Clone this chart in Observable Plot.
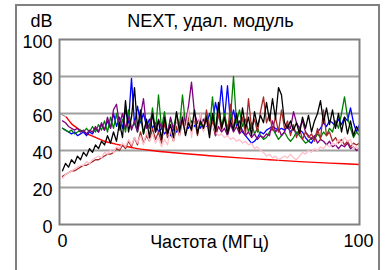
<!DOCTYPE html>
<html>
<head>
<meta charset="utf-8">
<script src="https://cdn.jsdelivr.net/npm/d3@7"></script>
<script src="https://cdn.jsdelivr.net/npm/@observablehq/plot@0.6"></script>
<style>
  body { margin: 0; background: #fff; }
  #wrap { position: relative; width: 385px; height: 270px; overflow: hidden; }
  #box { position: absolute; left: 15px; top: 4px; width: 361px; height: 300px; border: 2px solid #808080; }
  #chart { position: absolute; left: 0; top: 0; }
</style>
</head>
<body>
<div id="wrap"><div id="box"></div><div id="chart"></div></div>
<script>
const title = "NEXT, удал. модуль";
const unitLabel = "dB";
const xLabel = "Частота (МГц)";
const xTicksLeft = [0];
const xTicksRight = [100];
const yTicks = [0, 20, 40, 60, 80, 100];
const gridValues = [20, 40, 60, 80];

const freq = [1,2,3,4,5,6,7,8,9,10,11,12,13,14,15,16,17,18,19,20,21,22,23,24,25,26,27,28,29,30,
31,32,33,34,35,36,37,38,39,40,41,42,43,44,45,46,47,48,49,50,51,52,53,54,55,56,57,58,59,60,
61,62,63,64,65,66,67,68,69,70,71,72,73,74,75,76,77,78,79,80,81,82,83,84,85,86,87,88,89,90,
91,92,93,94,95,96,97,98,99,100];

const limitGreyF = [0, 2.3];
const limitGreyV = [60.2, 58];
const limitF = [2.3, 4, 6, 8, 10, 15, 20, 25, 30, 40, 50, 60, 70, 80, 90, 100];
const limitV = [58, 54.5, 52, 49.8, 48.5, 45, 43, 41.3, 40.1, 38.5, 37.2, 36, 35, 34, 33.2, 32.4];

const blue = [52,51,50,49,50,48,49,50,48,50,49,52,50,54,51,56,52,60,53,58,52,62,55,79,54,64,55,60,53,57,
52,55,50,52,49,51,48,52,50,53,55,54,52,56,53,55,52,57,53,60,55,66,58,75,57,75,55,62,53,56,
50,48,46,44,45,47,50,49,51,52,53,52,51,52,51,53,50,52,49,51,50,47,45,44,47,50,52,55,53,56,
55,53,57,54,58,56,63,55,50,54];

const green = [52,51,50,51,49,50,51,50,52,50,53,50,54,51,56,50,58,52,60,51,57,50,62,52,55,50,58,49,56,52,
63,50,70,52,61,49,57,52,60,53,70,54,62,52,58,50,55,51,60,52,69,50,64,53,60,52,58,80,55,62,
53,57,50,55,49,52,48,46,47,50,52,49,46,48,50,47,45,47,50,48,46,44,45,47,46,49,47,50,48,52,
50,56,52,60,69,58,52,47,50,48];

const purple = [56,55,53,52,51,52,50,51,49,51,50,53,50,55,51,58,52,62,65,54,60,52,58,51,56,50,59,68,52,54,
60,50,57,52,55,49,58,51,56,52,60,55,64,77,60,55,58,52,56,50,55,48,53,50,52,48,54,50,53,49,
51,48,50,47,49,46,48,47,49,48,56,50,52,48,50,54,52,61,55,52,56,50,48,46,48,44,46,45,43,45,
42,43,41,43,42,44,41,42,40,41];

const brown = [26,27,28,29,29,30,31,32,32,33,34,35,35,36,37,38,38,39,41,40,43,41,45,42,47,43,50,44,48,45,
52,46,50,44,55,47,50,45,53,48,56,49,58,50,57,48,60,51,62,50,56,48,60,51,58,49,65,52,60,50,
58,49,68,52,57,50,61,69,55,60,51,58,50,62,52,56,48,54,47,52,46,50,47,49,45,52,46,62,48,50,
45,47,44,46,43,45,42,44,43,44];

const pink = [25,27,28,29,30,31,32,32,34,33,35,36,37,36,39,38,40,39,42,41,44,42,46,43,47,44,48,43,50,45,
49,44,47,42,46,43,52,45,58,48,60,50,62,47,58,52,60,50,55,48,54,50,48,49,47,48,46,47,45,46,
44,45,43,44,41,42,40,39,37,38,36,37,35,36,37,36,38,36,35,37,39,38,40,39,41,40,42,41,43,42,
44,43,46,44,47,45,46,41,42,40];

const black = [29,33,31,35,33,37,35,39,37,41,39,43,41,45,43,48,44,50,45,55,47,67,50,58,74,52,62,49,57,47,
60,50,56,46,58,49,54,47,61,50,58,48,55,51,62,49,56,52,58,47,60,50,66,52,58,49,56,51,60,50,
63,52,58,48,61,53,59,55,66,56,68,57,74,70,55,52,56,51,55,49,58,52,59,50,56,60,67,55,63,54,
62,52,60,50,58,49,56,48,53,50];

const seriesNames = ["blue", "green", "purple", "brown", "pink", "black"];
const seriesColors = ["#0000ff", "#008040", "#800080", "#804040", "#ff20c0", "#000000"];
const seriesValues = [blue, green, purple, brown, pink, black];

const rows = [];
seriesNames.forEach((name, i) => {
  seriesValues[i].forEach((v, j) => rows.push({series: name, f: freq[j], v}));
});
const greyRows = limitGreyF.map((f, i) => ({f, v: limitGreyV[i]}));
const limitRows = limitF.map((f, i) => ({f, v: limitV[i]}));

const FS = 18;
const chart = Plot.plot({
  width: 385,
  height: 270,
  marginLeft: 59,
  marginRight: 26,
  marginTop: 39,
  marginBottom: 46,
  style: {fontFamily: "Liberation Sans, Arial, sans-serif", fontSize: FS + "px", color: "#000", background: "transparent"},
  x: {domain: [0, 100]},
  y: {domain: [0, 100]},
  color: {domain: seriesNames, range: seriesColors},
  marks: [
    Plot.ruleY(gridValues, {stroke: "#a0a0a0", strokeWidth: 2}),
    Plot.line(greyRows, {x: "f", y: "v", stroke: "#a0a0a0", strokeWidth: 1.3}),
    Plot.line(limitRows, {x: "f", y: "v", stroke: "#ff0000", strokeWidth: 1.4, curve: "monotone-x"}),
    Plot.line(rows, {x: "f", y: "v", z: "series", stroke: "series", strokeWidth: 1.3}),
    Plot.frame({stroke: "#808080", strokeWidth: 2}),
    Plot.axisY(yTicks, {tickSize: 0, tickPadding: 7, dy: 3, label: null, fontSize: FS}),
    Plot.axisX(xTicksLeft, {tickSize: 0, tickPadding: 10, dx: 3, label: null, fontSize: FS}),
    Plot.axisX(xTicksRight, {tickSize: 0, tickPadding: 10, dx: -1, label: null, fontSize: FS}),
    Plot.text([xLabel], {frameAnchor: "bottom", lineAnchor: "middle", dx: 0, dy: 18, text: d => d, fontSize: FS}),
    Plot.text([title], {frameAnchor: "top", lineAnchor: "middle", dx: 1, dy: -18, text: d => d, fontSize: FS}),
    Plot.text([unitLabel], {frameAnchor: "top-left", lineAnchor: "middle", textAnchor: "end", dx: -7, dy: -18, text: d => d, fontSize: FS})
  ]
});
document.getElementById("chart").appendChild(chart);
</script>
</body>
</html>
